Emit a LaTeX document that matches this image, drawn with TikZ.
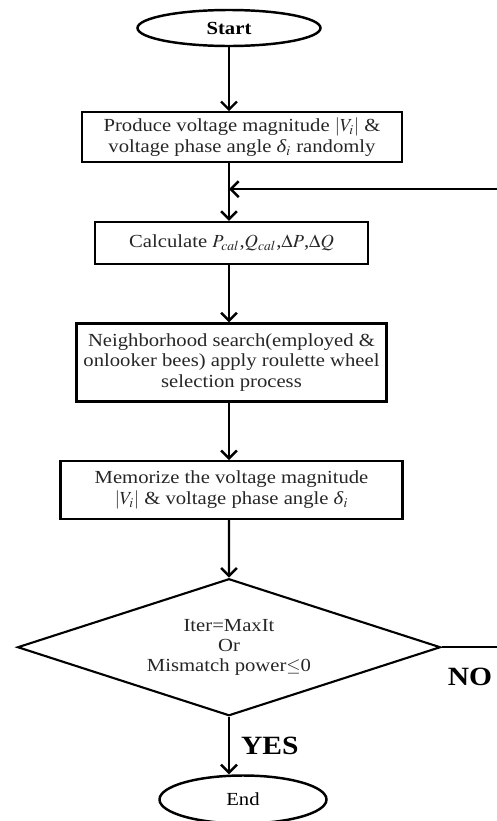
\documentclass[tikz,border=0pt]{standalone}
\usepackage{mathptmx}
\usepackage{fontspec}
\setmainfont[FakeStretch=1.12]{Liberation Serif}
\usetikzlibrary{shapes.geometric,arrows.meta,positioning,calc}

\newcommand{\boxfont}{\fontsize{10.5}{11.8}\selectfont}
\newcommand{\tagfont}{\bfseries\fontsize{15}{15}\selectfont}
\newcommand{\angi}{\textit{δ}$_i$}

\tikzset{
  stepbox/.style={draw, line width=1.2pt, align=center, inner sep=2pt, font=\boxfont, text=black!85},
  term/.style={ellipse, draw, line width=1.4pt, inner sep=0pt, font=\boxfont},
  decide/.style={diamond, draw, line width=1.2pt, align=center, inner sep=0pt, font=\fontsize{10.5}{11.5}\selectfont, text=black!85},
  arr/.style={-{Straight Barb[length=4.5pt,width=9pt]}, line width=1.4pt},
}

\begin{document}
\begin{tikzpicture}[node distance=1.15cm]
    \useasboundingbox (0,0) rectangle (9.94,-16.42);
    \clip (0,0) rectangle (9.94,-16.42);
    % terminals and steps
    \node[term, minimum width=3.66cm, minimum height=0.72cm, font=\bfseries\boxfont] (start) at (4.58,-0.56) {Start};
    \node[stepbox, below=1.28cm of start, xshift=0.26cm, minimum width=6.4cm, minimum height=1.0cm] (produce) {Produce voltage magnitude $|V_i|$ \&\\ voltage phase angle \angi{} randomly};
    \node[stepbox, below=of produce, xshift=-0.21cm, minimum width=5.46cm, minimum height=0.84cm] (calc) {Calculate $P_{cal}$,$Q_{cal}$,$\Delta P$,$\Delta Q$};
    \node[stepbox, below=of calc, minimum width=6.2cm, minimum height=1.56cm] (search) {Neighborhood search(employed \&\\ onlooker bees) apply roulette wheel\\ selection process};
    \node[stepbox, below=of search, minimum width=6.84cm, minimum height=1.16cm] (memo) {Memorize the voltage magnitude\\ $|V_i|$ \& voltage phase angle \angi};
    \node[decide, below=of memo, xshift=-0.05cm, minimum width=8.46cm, minimum height=2.74cm, aspect=3] (check) {Iter=MaxIt\\ Or\\ Mismatch power$\leq$0};
    \node[term, below=of check, xshift=0.28cm, minimum width=3.34cm, minimum height=0.96cm] (finish) {End};
    \node[font=\tagfont, below right=0.3cm and 0.0cm of check.east] (no) {NO};
    % connectors
    \coordinate (back) at ($(produce.south)!0.45!(calc.north)$);
    \draw[arr] (start.south) -- (start |- produce.north);
    \draw[arr] (produce.south -| start) -- (calc.north -| start);
    \draw[arr] (calc.south -| start) -- (search.north -| start);
    \draw[arr] (search.south -| start) -- (memo.north -| start);
    \draw[arr] (memo.south -| start) -- (check.north);
    \draw[arr] (check.south) -- node[right=0.1cm, font=\tagfont] (yes) {YES} (check.south |- finish.north);
    \draw[arr] (check.east) -- ++(1.5,0) |- (back -| start);
\end{tikzpicture}
\end{document}
